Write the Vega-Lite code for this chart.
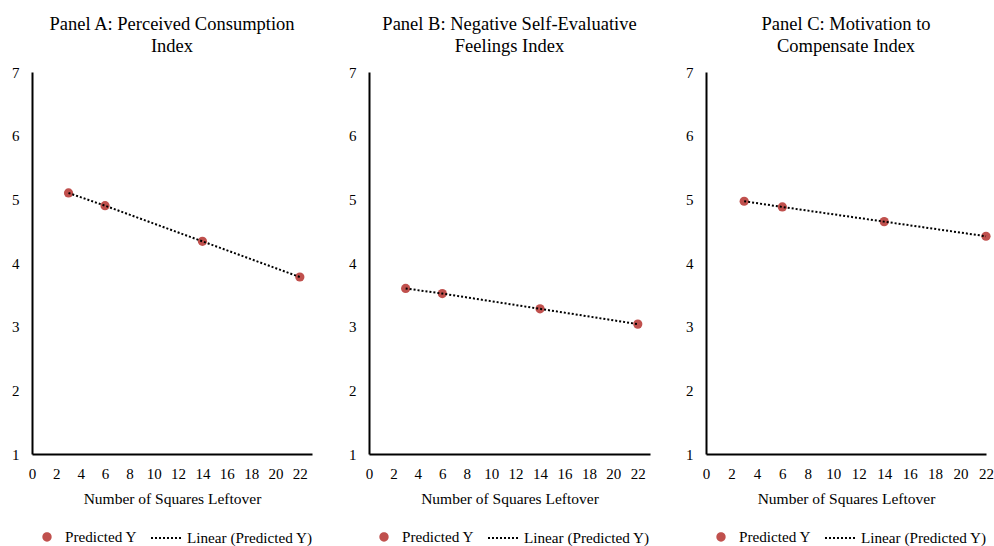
{
  "$schema": "https://vega.github.io/schema/vega-lite/v6.json",
  "padding": {"left": 11, "top": 14, "right": 2, "bottom": 2},
  "background": "white",
  "spacing": 35,
  "data": {"values": [
    {"panel": "A", "x": 3, "y": 5.10},
    {"panel": "A", "x": 6, "y": 4.90},
    {"panel": "A", "x": 14, "y": 4.34},
    {"panel": "A", "x": 22, "y": 3.78},
    {"panel": "B", "x": 3, "y": 3.60},
    {"panel": "B", "x": 6, "y": 3.52},
    {"panel": "B", "x": 14, "y": 3.28},
    {"panel": "B", "x": 22, "y": 3.04},
    {"panel": "C", "x": 3, "y": 4.97},
    {"panel": "C", "x": 6, "y": 4.88},
    {"panel": "C", "x": 14, "y": 4.65},
    {"panel": "C", "x": 22, "y": 4.42}
  ]},
  "config": {
    "view": {"stroke": null},
    "font": "Liberation Serif",
    "style": {"guide-label": {"font": "Liberation Serif", "fill": "black"}, "guide-title": {"font": "Liberation Serif", "fill": "black"}},
    "title": {"font": "Liberation Serif", "fontSize": 18.5, "fontWeight": "normal", "color": "black", "anchor": "middle", "lineHeight": 22, "offset": 10},
    "legend": {
      "orient": "bottom", "direction": "horizontal", "title": null,
      "labelFont": "Liberation Serif", "labelFontSize": 15.2, "labelColor": "black",
      "padding": 0, "offset": 15,
      "layout": {"bottom": {"anchor": "middle", "margin": 12}}
    }
  },
  "resolve": {"scale": {"color": "independent", "strokeDash": "independent"}, "legend": {"color": "independent", "strokeDash": "independent"}},
  "hconcat": [
    {
      "title": {"text": ["Panel A: Perceived Consumption", "Index"]},
      "width": 280, "height": 382,
      "transform": [{"filter": "datum.panel === 'A'"}],
      "encoding": {
        "x": {"field": "x", "type": "quantitative", "scale": {"domain": [0, 23], "nice": false}, "title": "Number of Squares Leftover",
          "axis": {"values": [0,2,4,6,8,10,12,14,16,18,20,22], "format": "d", "domainColor": "black", "domainWidth": 2, "ticks": false, "grid": false, "labelFont": "Liberation Serif", "labelFontSize": 15, "labelColor": "black", "labelPadding": 12, "labelOverlap": false, "labelFlush": false, "titleFont": "Liberation Serif", "titleFontSize": 15.5, "titleFontWeight": "normal", "titleColor": "black", "titlePadding": 10}},
        "y": {"field": "y", "type": "quantitative", "scale": {"domain": [1, 7], "nice": false}, "title": null,
          "axis": {"values": [1,2,3,4,5,6,7], "format": "d", "domainColor": "black", "domainWidth": 2, "ticks": false, "grid": false, "labelFont": "Liberation Serif", "labelFontSize": 15, "labelColor": "black", "labelPadding": 13, "labelOverlap": false, "labelFlush": false}}
      },
      "layer": [
        {
          "mark": {"type": "point", "filled": true, "size": 85, "opacity": 1},
          "encoding": {
            "color": {"datum": "Predicted Y", "scale": {"domain": ["Predicted Y"], "range": ["#C0504D"]},
              "legend": {"symbolType": "M0.31,0A0.31,0.31,0,1,1,-0.31,0A0.31,0.31,0,1,1,0.31,0Z", "symbolSize": 900, "symbolOpacity": 1, "symbolStrokeWidth": 0, "labelOffset": 3}}
          }
        },
        {
          "mark": {"type": "line", "color": "black", "strokeWidth": 2},
          "encoding": {
            "strokeDash": {"datum": "Linear (Predicted Y)", "scale": {"domain": ["Linear (Predicted Y)"], "range": [[2, 2]]},
              "legend": {"symbolType": "stroke", "symbolSize": 900, "symbolStrokeWidth": 2, "symbolStrokeColor": "black", "symbolDash": [2, 2], "labelOffset": 5}}
          }
        }
      ]
    },
    {
      "title": {"text": ["Panel B: Negative Self-Evaluative", "Feelings Index"]},
      "width": 281, "height": 382,
      "transform": [{"filter": "datum.panel === 'B'"}],
      "encoding": {
        "x": {"field": "x", "type": "quantitative", "scale": {"domain": [0, 23], "nice": false}, "title": "Number of Squares Leftover",
          "axis": {"values": [0,2,4,6,8,10,12,14,16,18,20,22], "format": "d", "domainColor": "black", "domainWidth": 2, "ticks": false, "grid": false, "labelFont": "Liberation Serif", "labelFontSize": 15, "labelColor": "black", "labelPadding": 12, "labelOverlap": false, "labelFlush": false, "titleFont": "Liberation Serif", "titleFontSize": 15.5, "titleFontWeight": "normal", "titleColor": "black", "titlePadding": 10}},
        "y": {"field": "y", "type": "quantitative", "scale": {"domain": [1, 7], "nice": false}, "title": null,
          "axis": {"values": [1,2,3,4,5,6,7], "format": "d", "domainColor": "black", "domainWidth": 2, "ticks": false, "grid": false, "labelFont": "Liberation Serif", "labelFontSize": 15, "labelColor": "black", "labelPadding": 13, "labelOverlap": false, "labelFlush": false}}
      },
      "layer": [
        {
          "mark": {"type": "point", "filled": true, "size": 85, "opacity": 1},
          "encoding": {
            "color": {"datum": "Predicted Y", "scale": {"domain": ["Predicted Y"], "range": ["#C0504D"]},
              "legend": {"symbolType": "M0.31,0A0.31,0.31,0,1,1,-0.31,0A0.31,0.31,0,1,1,0.31,0Z", "symbolSize": 900, "symbolOpacity": 1, "symbolStrokeWidth": 0, "labelOffset": 3}}
          }
        },
        {
          "mark": {"type": "line", "color": "black", "strokeWidth": 2},
          "encoding": {
            "strokeDash": {"datum": "Linear (Predicted Y)", "scale": {"domain": ["Linear (Predicted Y)"], "range": [[2, 2]]},
              "legend": {"symbolType": "stroke", "symbolSize": 900, "symbolStrokeWidth": 2, "symbolStrokeColor": "black", "symbolDash": [2, 2], "labelOffset": 5}}
          }
        }
      ]
    },
    {
      "title": {"text": ["Panel C: Motivation to", "Compensate Index"]},
      "width": 280, "height": 382,
      "transform": [{"filter": "datum.panel === 'C'"}],
      "encoding": {
        "x": {"field": "x", "type": "quantitative", "scale": {"domain": [0, 22], "nice": false}, "title": "Number of Squares Leftover",
          "axis": {"values": [0,2,4,6,8,10,12,14,16,18,20,22], "format": "d", "domainColor": "black", "domainWidth": 2, "ticks": false, "grid": false, "labelFont": "Liberation Serif", "labelFontSize": 15, "labelColor": "black", "labelPadding": 12, "labelOverlap": false, "labelFlush": false, "titleFont": "Liberation Serif", "titleFontSize": 15.5, "titleFontWeight": "normal", "titleColor": "black", "titlePadding": 10}},
        "y": {"field": "y", "type": "quantitative", "scale": {"domain": [1, 7], "nice": false}, "title": null,
          "axis": {"values": [1,2,3,4,5,6,7], "format": "d", "domainColor": "black", "domainWidth": 2, "ticks": false, "grid": false, "labelFont": "Liberation Serif", "labelFontSize": 15, "labelColor": "black", "labelPadding": 13, "labelOverlap": false, "labelFlush": false}}
      },
      "layer": [
        {
          "mark": {"type": "point", "filled": true, "size": 85, "opacity": 1},
          "encoding": {
            "color": {"datum": "Predicted Y", "scale": {"domain": ["Predicted Y"], "range": ["#C0504D"]},
              "legend": {"symbolType": "M0.31,0A0.31,0.31,0,1,1,-0.31,0A0.31,0.31,0,1,1,0.31,0Z", "symbolSize": 900, "symbolOpacity": 1, "symbolStrokeWidth": 0, "labelOffset": 3}}
          }
        },
        {
          "mark": {"type": "line", "color": "black", "strokeWidth": 2},
          "encoding": {
            "strokeDash": {"datum": "Linear (Predicted Y)", "scale": {"domain": ["Linear (Predicted Y)"], "range": [[2, 2]]},
              "legend": {"symbolType": "stroke", "symbolSize": 900, "symbolStrokeWidth": 2, "symbolStrokeColor": "black", "symbolDash": [2, 2], "labelOffset": 5}}
          }
        }
      ]
    }
  ]
}
